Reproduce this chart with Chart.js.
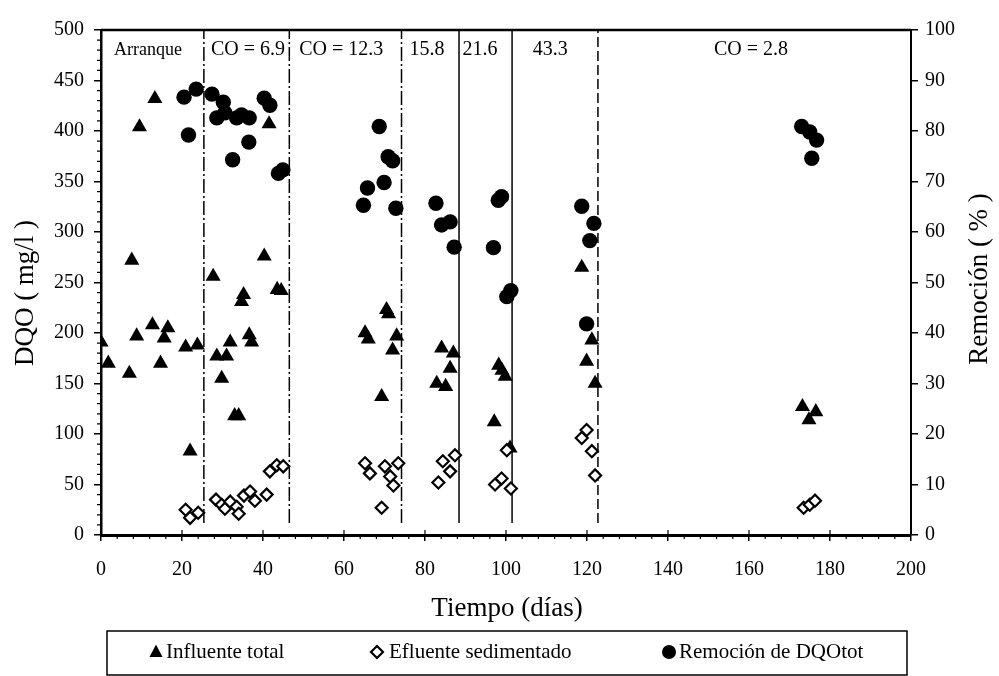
<!DOCTYPE html>
<html>
<head>
<meta charset="utf-8">
<title>DQO vs Tiempo</title>
<script src="https://cdn.jsdelivr.net/npm/chart.js@4.4.1/dist/chart.umd.min.js"></script>
<style>
    html, body { margin: 0; padding: 0; background: #fff; }
    #wrap { width: 999px; height: 676px; }
</style>
</head>
<body>
<div id="wrap"><canvas id="chart" width="999" height="676"></canvas></div>
<script>
// Data
const phaseBoundaries = [25.4, 46.5, 74.2, 88.4, 101.5, 122.7];
const phaseNames = ['Arranque', 'CO = 6.9', 'CO = 12.3', '15.8', '21.6', '43.3', 'CO = 2.8'];

const influenteDays = [0, 1.8, 7, 7.6, 8.8, 9.5, 12.7, 13.3, 14.7, 15.6, 16.5, 20.9, 22, 23.8,
    27.7, 28.6, 29.8, 31, 31.9, 33, 34, 34.7, 35.2, 36.6, 37.2, 40.3, 41.5, 43.5, 44.5,
    65.2, 66, 69.3, 70.5, 71, 72, 73, 82.9, 84.1, 85.1, 86.2, 87, 97.1, 98.2, 99, 99.8, 101,
    118.7, 119.9, 121.2, 122, 173.2, 174.8, 176.5];
const influenteDQO = [191, 170, 160, 272, 197, 404, 208, 432, 170, 195, 205, 186, 83, 188,
    256, 177, 155, 177, 191, 118, 118, 231, 238, 198, 191, 276, 407, 243, 242,
    200, 194, 137, 223, 219, 183, 197, 150, 185, 147, 165, 180, 112, 168, 163, 157, 86,
    265, 172, 193, 150, 127, 114, 122];

const efluenteDays = [20.9, 22, 24, 28.4, 29.8, 30.6, 31.9, 33.5, 34, 35.3, 36.8, 38, 40.9, 41.7,
    43.4, 45, 65.2, 66.4, 69.3, 70.1, 71.4, 72.2, 73.4, 83.3, 84.4, 86.2, 87.4,
    97.3, 98.9, 100.2, 101.2, 118.7, 119.9, 121.2, 122, 173.5, 175, 176.3];
const efluenteDQO = [25, 17, 22, 35, 30, 26, 33, 28, 21, 39, 43, 34, 40, 63,
    69, 68, 71, 61, 27, 68, 58, 49, 71, 52, 73, 63, 79,
    50, 56, 84, 46, 96, 104, 83, 59, 27, 30, 34];

const remocionDays = [20.5, 21.6, 23.5, 27.4, 28.6, 30.2, 30.6, 32.5, 33.5, 34.7, 36.5, 36.6, 40.3, 41.7,
    43.8, 44.9, 64.8, 65.8, 68.7, 69.9, 70.9, 72, 72.8, 82.7, 84.1, 86.2, 87.2,
    96.9, 98.1, 98.9, 100.2, 101.2, 118.7, 119.9, 120.7, 121.7, 173, 175, 175.5, 176.7];
const remocionPct = [86.7, 79.2, 88.3, 87.3, 82.6, 85.7, 83.6, 74.3, 82.6, 83.2, 77.8, 82.6, 86.5, 85.1,
    71.6, 72.3, 65.3, 68.7, 80.9, 69.8, 74.9, 74.1, 64.7, 65.7, 61.4, 62.0, 57,
    56.9, 66.3, 67, 47.2, 48.4, 65.1, 41.8, 58.3, 61.7, 80.9, 79.8, 74.6, 78.2];

const dayTicks = [0, 20, 40, 60, 80, 100, 120, 140, 160, 180, 200];
const dqoTicks = [0, 50, 100, 150, 200, 250, 300, 350, 400, 450, 500];
const pctTicks = [0, 10, 20, 30, 40, 50, 60, 70, 80, 90, 100];

const legendNames = ['Influente total', 'Efluente sedimentado', 'Remoción de DQOtot'];

// Layout
const FONT = "'Liberation Serif', 'Times New Roman', serif";
const phaseLabelDays = [11.6, 36.3, 59.3, 80.5, 93.6, 110.9, 160.5];
const phaseDashes = [[14, 3, 2, 3], [14, 3, 2, 3], [14, 3, 2, 3], [], [], [10, 4]];

function toPoints(xs, ys) {
    return xs.map((d, i) => ({ x: d, y: ys[i] }));
}

const boundaryDatasets = phaseBoundaries.map((b, i) => ({
    label: 'limite' + i,
    data: [{ x: b, y: 12 }, { x: b, y: 500 }],
    showLine: true,
    borderColor: '#000',
    borderWidth: 1.5,
    borderDash: phaseDashes[i],
    pointRadius: 0,
    yAxisID: 'y',
    order: 10
}));

const decorations = {
    id: 'decorations',
    afterDraw(chart) {
        const { ctx, chartArea: a, scales } = chart;
        const x = scales.x, y = scales.y;
        ctx.save();
        ctx.strokeStyle = '#000';
        ctx.fillStyle = '#000';

        // top frame
        ctx.lineWidth = 2.5;
        ctx.beginPath();
        ctx.moveTo(a.left, a.top);
        ctx.lineTo(a.right, a.top);
        ctx.stroke();

        // minor ticks
        ctx.lineWidth = 1.2;
        ctx.beginPath();
        for (let v = 10; v < 500; v += 10) {
            if (v % 50 === 0) continue;
            const py = y.getPixelForValue(v);
            ctx.moveTo(a.left - 4, py);
            ctx.lineTo(a.left, py);
        }
        for (let d = 4; d < 200; d += 4) {
            if (d % 20 === 0) continue;
            const px = x.getPixelForValue(d);
            ctx.moveTo(px, a.bottom);
            ctx.lineTo(px, a.bottom + 4);
        }
        for (let d = 20; d < 200; d += 20) {
            const px = x.getPixelForValue(d);
            ctx.moveTo(px, a.bottom);
            ctx.lineTo(px, a.bottom - 5);
        }
        ctx.stroke();

        // phase labels
        ctx.textAlign = 'center';
        ctx.textBaseline = 'middle';
        const ly = y.getPixelForValue(480);
        phaseNames.forEach((name, i) => {
            ctx.font = (i === 0 ? '18px ' : '20px ') + FONT;
            ctx.fillText(name, x.getPixelForValue(phaseLabelDays[i]), ly);
        });

        // axis titles
        ctx.font = '27px ' + FONT;
        ctx.fillText('Tiempo (días)', 507, 609);
        ctx.save();
        ctx.translate(26, 293);
        ctx.rotate(-Math.PI / 2);
        ctx.fillText('DQO ( mg/l )', 0, 0);
        ctx.restore();
        ctx.save();
        ctx.translate(980, 279);
        ctx.rotate(-Math.PI / 2);
        ctx.fillText('Remoción ( % )', 0, 0);
        ctx.restore();

        // legend box
        ctx.lineWidth = 1.5;
        ctx.strokeRect(107, 631, 800, 44);
        const ry = 652;
        ctx.font = '21px ' + FONT;
        ctx.textAlign = 'left';
        // triangle
        ctx.beginPath();
        ctx.moveTo(156, ry - 7.5);
        ctx.lineTo(162.5, ry + 5);
        ctx.lineTo(149.5, ry + 5);
        ctx.closePath();
        ctx.fill();
        ctx.fillText(legendNames[0], 166, ry);
        // diamond
        ctx.lineWidth = 2.2;
        ctx.fillStyle = '#fff';
        ctx.beginPath();
        ctx.moveTo(377, ry - 6);
        ctx.lineTo(383, ry);
        ctx.lineTo(377, ry + 6);
        ctx.lineTo(371, ry);
        ctx.closePath();
        ctx.fill();
        ctx.stroke();
        ctx.fillStyle = '#000';
        ctx.fillText(legendNames[1], 389, ry);
        // circle
        ctx.beginPath();
        ctx.arc(669, ry, 7, 0, Math.PI * 2);
        ctx.fill();
        ctx.fillText(legendNames[2], 679, ry);

        ctx.restore();
    }
};

const tickFont = { family: FONT, size: 20 };

new Chart(document.getElementById('chart'), {
    type: 'scatter',
    data: {
        datasets: [
            {
                label: legendNames[2],
                data: toPoints(remocionDays, remocionPct),
                yAxisID: 'y2',
                pointStyle: 'circle',
                pointRadius: 7.7,
                backgroundColor: '#000',
                borderColor: '#000',
                borderWidth: 0,
                order: 0
            },
            {
                label: legendNames[1],
                data: toPoints(efluenteDays, efluenteDQO),
                yAxisID: 'y',
                pointStyle: 'rectRot',
                pointRadius: 6,
                backgroundColor: '#fff',
                borderColor: '#000',
                borderWidth: 2.2,
                order: 1
            },
            {
                label: legendNames[0],
                data: toPoints(influenteDays, influenteDQO),
                yAxisID: 'y',
                pointStyle: 'triangle',
                pointRadius: 8.7,
                backgroundColor: '#000',
                borderColor: '#000',
                borderWidth: 0,
                order: 2
            },
            ...boundaryDatasets
        ]
    },
    options: {
        responsive: false,
        animation: false,
        events: [],
        layout: { padding: { top: 30, left: 0, right: 0, bottom: 0 } },
        plugins: {
            legend: { display: false },
            tooltip: { enabled: false }
        },
        scales: {
            x: {
                type: 'linear',
                position: 'bottom',
                min: 0,
                max: 200,
                afterBuildTicks: s => { s.ticks = dayTicks.map(v => ({ value: v })); },
                afterFit: s => { s.height = 141; },
                ticks: { font: tickFont, color: '#000', padding: 17, maxRotation: 0 },
                grid: { drawOnChartArea: false, tickLength: 6, color: '#000', lineWidth: 1.5 },
                border: { color: '#000', width: 3 }
            },
            y: {
                type: 'linear',
                position: 'left',
                min: 0,
                max: 500,
                afterBuildTicks: s => { s.ticks = dqoTicks.map(v => ({ value: v })); },
                afterFit: s => { s.width = 101; },
                ticks: { font: tickFont, color: '#000', padding: 10 },
                grid: { drawOnChartArea: false, tickLength: 7, color: '#000', lineWidth: 1.5 },
                border: { color: '#000', width: 2.5 }
            },
            y2: {
                type: 'linear',
                position: 'right',
                min: 0,
                max: 100,
                afterBuildTicks: s => { s.ticks = pctTicks.map(v => ({ value: v })); },
                afterFit: s => { s.width = 88; },
                ticks: { font: tickFont, color: '#000', padding: 7 },
                grid: { drawOnChartArea: false, tickLength: 7, color: '#000', lineWidth: 1.5 },
                border: { color: '#000', width: 2 }
            }
        }
    },
    plugins: [decorations]
});
</script>
</body>
</html>
